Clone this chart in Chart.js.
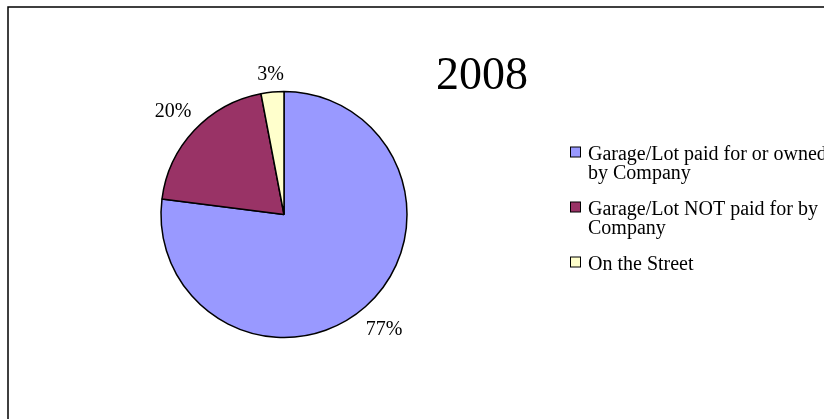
<!DOCTYPE html>
<html>
<head>
<meta charset="utf-8">
<title>2008</title>
<script src="https://cdn.jsdelivr.net/npm/chart.js@4/dist/chart.umd.min.js"></script>
<style>
  html, body { margin: 0; padding: 0; background: #fff; }
  #wrap { position: relative; width: 824px; height: 419px; }
</style>
</head>
<body>
<div id="wrap"><canvas id="parkingChart"></canvas></div>
<script>
// chart data
const titleText = '2008';
const categories = [
  'Garage/Lot paid for or owned by Company',
  'Garage/Lot NOT paid for by Company',
  'On the Street'
];
const values = [77, 20, 3];

// styles
const sliceColors = ['#9999FF', '#993366', '#FFFFCC'];
const serif = '"Liberation Serif", "Times New Roman", serif';

document.addEventListener('DOMContentLoaded', function () {
  const total = values.reduce((a, b) => a + b, 0);

  // split a legend label into lines that fit maxWidth
  function wrapText(ctx, text, maxWidth) {
    const words = text.split(' ');
    const lines = [];
    let line = '';
    words.forEach(w => {
      const test = line ? line + ' ' + w : w;
      if (line && ctx.measureText(test).width > maxWidth) {
        lines.push(line);
        line = w;
      } else {
        line = test;
      }
    });
    if (line) lines.push(line);
    return lines;
  }

  const overlay = {
    id: 'overlay',
    beforeDraw(chart) {
      const ctx = chart.ctx;
      ctx.save();
      ctx.fillStyle = '#fff';
      ctx.fillRect(0, 0, chart.width, chart.height);
      // outer frame (runs off the right and bottom edges)
      ctx.strokeStyle = '#000';
      ctx.lineWidth = 1.5;
      ctx.strokeRect(8, 7, chart.width + 40, chart.height + 40);
      ctx.restore();
    },
    afterDraw(chart) {
      const ctx = chart.ctx;
      const meta = chart.getDatasetMeta(0);
      ctx.save();
      ctx.fillStyle = '#000';

      // title
      ctx.font = '46px ' + serif;
      ctx.textAlign = 'center';
      ctx.textBaseline = 'alphabetic';
      ctx.fillText(titleText, 482, 89);

      // percentage labels outside each slice
      ctx.font = '20px ' + serif;
      meta.data.forEach((arc, i) => {
        const p = arc.getProps(['x', 'y', 'startAngle', 'endAngle', 'outerRadius'], true);
        const mid = (p.startAngle + p.endAngle) / 2;
        const text = Math.round(values[i] / total * 100) + '%';
        const w = ctx.measureText(text).width;
        const h = 14;
        const cx = Math.cos(mid), cy = Math.sin(mid);
        const d = p.outerRadius + 11 + Math.abs(cx) * w / 2 + Math.abs(cy) * h / 2;
        ctx.fillText(text, p.x + cx * d, p.y + cy * d + h / 2);
      });

      // legend
      ctx.textAlign = 'left';
      let base = 160;
      categories.forEach((label, i) => {
        const lines = wrapText(ctx, label, 245);
        ctx.fillStyle = sliceColors[i];
        ctx.fillRect(570.5, base - 13, 10, 10);
        ctx.strokeStyle = '#000';
        ctx.lineWidth = 1;
        ctx.strokeRect(570.5, base - 13, 10, 10);
        ctx.fillStyle = '#000';
        lines.forEach((ln, j) => {
          ctx.fillText(ln, 588, base);
          if (j < lines.length - 1) base += 19;
        });
        base += 36;
      });
      ctx.restore();
    }
  };

  new Chart(document.getElementById('parkingChart'), {
    type: 'pie',
    data: {
      labels: categories,
      datasets: [{
        data: values,
        backgroundColor: sliceColors,
        borderColor: '#000',
        borderWidth: 1.5
      }]
    },
    options: {
      responsive: true,
      maintainAspectRatio: false,
      animation: false,
      radius: 123,
      layout: { padding: { left: 161, right: 417, top: 92, bottom: 82 } },
      plugins: {
        legend: { display: false },
        title: { display: false },
        tooltip: { enabled: false }
      }
    },
    plugins: [overlay]
  });
});
</script>
</body>
</html>
